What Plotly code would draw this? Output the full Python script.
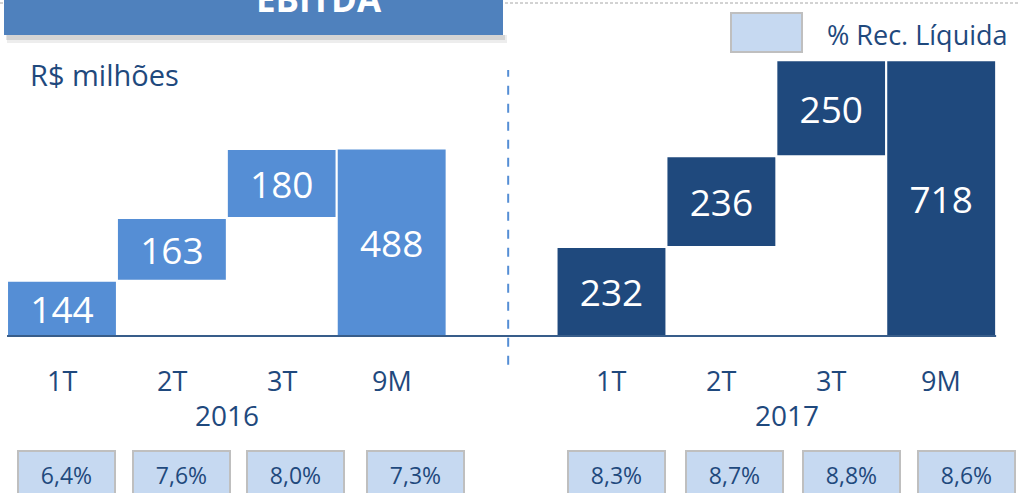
import plotly.graph_objects as go

# data
PERIODS = ["1T", "2T", "3T", "9M"]
YEARS = ["2016", "2017"]
EBITDA_2016 = [144, 163, 180, 488]
EBITDA_2017 = [232, 236, 250, 718]
MARGIN_2016 = ["6,4%", "7,6%", "8,0%", "7,3%"]
MARGIN_2017 = ["8,3%", "8,7%", "8,8%", "8,6%"]

# styling
W, H = 1019, 493
FONT = "Open Sans, Lato, sans-serif"
TXT = "#1F497D"
C_2016 = "#558ED5"
C_2017 = "#1F497D"
BOX_FILL = "#C6D9F1"
BOX_LINE = "#BFBFBF"
HEADER = "#4F81BD"
PCT_SHIFT = [5, 10, 14, 24, 5, 13, 20, 25]


def px(x):
    return x / W


def py(y):
    return 1 - y / H


def bases(vals):
    # quarters stack on top of each other, the 9M total starts at zero
    out, run = [], 0
    for v in vals[:-1]:
        out.append(run)
        run += v
    return out + [0]


fig = go.Figure()

series = [
    (YEARS[0], EBITDA_2016, MARGIN_2016, C_2016, 0),
    (YEARS[1], EBITDA_2017, MARGIN_2017, C_2017, 5),
]

annotations = []
k = 0
for year, vals, margins, color, off in series:
    xs = [off + i for i in range(len(vals))]
    fig.add_trace(go.Bar(
        x=xs,
        y=vals,
        base=bases(vals),
        width=1.0,
        marker=dict(color=color, line=dict(color="white", width=2)),
        text=[str(v) for v in vals],
        textposition="inside",
        insidetextanchor="middle",
        constraintext="none",
        textfont=dict(family=FONT, size=37, color="white"),
        hoverinfo="skip",
        showlegend=False,
    ))
    for x, p in zip(xs, PERIODS):
        annotations.append(dict(x=x, y=-115, xref="x", yref="y", text=p, showarrow=False,
                                yanchor="middle",
                                font=dict(family=FONT, size=27, color=TXT)))
    annotations.append(dict(x=(xs[0] + xs[-1]) / 2 + (0.1 if off else 0), y=-206, xref="x", yref="y",
                            text=year, showarrow=False, yanchor="middle",
                            font=dict(family=FONT, size=28, color=TXT)))
    for x, m in zip(xs, margins):
        annotations.append(dict(x=x, y=-362, xref="x", yref="y", text=m, showarrow=False,
                                yanchor="middle",
                                xshift=PCT_SHIFT[k], width=95, height=46, borderpad=0,
                                bgcolor=BOX_FILL, bordercolor=BOX_LINE, borderwidth=2,
                                font=dict(family=FONT, size=23, color=TXT)))
        k += 1

# texts at the top
annotations += [
    dict(x=px(253.5), y=py(-2), xref="paper", yref="paper", text="<b>EBITDA</b>", showarrow=False,
         yanchor="middle", font=dict(family=FONT, size=35, color="white")),
    dict(x=px(28), y=py(75), xref="paper", yref="paper", text="R$ milhões", showarrow=False,
         xanchor="left", yanchor="middle", font=dict(family=FONT, size=29, color=TXT)),
    dict(x=px(825), y=py(35), xref="paper", yref="paper", text="% Rec. Líquida", showarrow=False,
         xanchor="left", yanchor="middle", font=dict(family=FONT, size=27, color=TXT)),
]

shapes = [
    # dashed border at the top of the slide
    dict(type="line", xref="paper", yref="paper", x0=0, x1=1, y0=py(3), y1=py(3),
         line=dict(color="#A6A6A6", width=1, dash="3px,2px")),
    # header shadow
    dict(type="rect", xref="paper", yref="paper", x0=px(7), x1=px(507), y0=py(43), y1=py(35),
         fillcolor="rgba(0,0,0,0.07)", line=dict(width=0)),
    dict(type="rect", xref="paper", yref="paper", x0=px(6), x1=px(505), y0=py(40), y1=py(35),
         fillcolor="rgba(0,0,0,0.10)", line=dict(width=0)),
    # header box
    dict(type="rect", xref="paper", yref="paper", x0=px(4), x1=px(503), y0=py(35), y1=py(-5),
         fillcolor=HEADER, line=dict(width=0)),
    # legend swatch
    dict(type="rect", xref="paper", yref="paper", x0=px(731), x1=px(802), y0=py(52), y1=py(13),
         fillcolor=BOX_FILL, line=dict(color=BOX_LINE, width=2)),
    # baseline
    dict(type="line", xref="x", yref="y", x0=-0.5, x1=8.5, y0=0, y1=0,
         line=dict(color="#385D8A", width=2)),
    # separator between years
    dict(type="line", xref="x", yref="y", x0=4.06, x1=4.06, y0=-75, y1=693,
         line=dict(color=C_2016, width=2, dash="dash")),
]

fig.update_layout(
    width=W,
    height=H,
    margin=dict(l=0, r=0, t=0, b=0, pad=0),
    plot_bgcolor="white",
    paper_bgcolor="white",
    barmode="overlay",
    annotations=annotations,
    shapes=shapes,
    xaxis=dict(range=[-0.564, 8.708], visible=False, fixedrange=True),
    yaxis=dict(range=[-409, 875], visible=False, fixedrange=True),
)

# page has an 8px body margin by default; drop it so the figure fills the window
fig.write_html("out.html", config={"displayModeBar": False},
               post_script="document.body.style.margin='0';")
